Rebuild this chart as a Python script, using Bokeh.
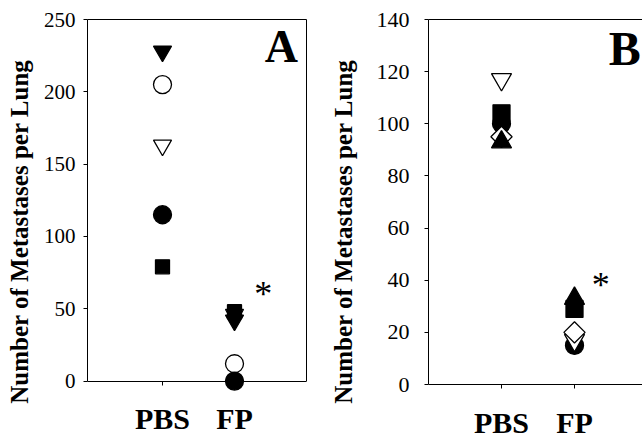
from bokeh.plotting import figure
from bokeh.models import Range1d, LinearAxis, FixedTicker, ColumnDataSource
from bokeh.layouts import row
from bokeh.embed import file_html
from bokeh.resources import INLINE
from bokeh.core.properties import value
import math

FONT = "Liberation Serif"

# ---------------- data ----------------
categories = ["PBS", "FP"]
y_label = "Number of Metastases per Lung"

# Panel A (per-experiment metastasis counts)
y_ticks_a = [0, 50, 100, 150, 200, 250]
a_open_circle = [205, 12]
a_open_inv_triangle = [163, 46]
a_filled_inv_triangle = [228, 42]
a_filled_square = [79, 48]
a_filled_circle = [115, 0]

# Panel B
y_ticks_b = [0, 20, 40, 60, 80, 100, 120, 140]
b_filled_circle = [100, 15]
b_filled_square = [104, 29]
b_open_inv_triangle = [117, 17]
b_open_diamond = [95, 20]
b_filled_triangle = [93, 33]

panel_letters = ["A", "B"]
significance = "*"

x_pos = [i + 1 for i in range(len(categories))]

FIG_H = 443


def style_axes(p, ymax, yticks, tick_font, standoff, label_standoff):
    yax = p.yaxis[0]
    yax.ticker = FixedTicker(ticks=yticks)
    yax.bounds = (0, ymax)
    yax.axis_line_color = "black"
    yax.axis_line_width = 1
    yax.major_tick_out = 4
    yax.major_tick_in = 0
    yax.minor_tick_line_color = None
    yax.major_label_text_font = FONT
    yax.major_label_text_font_size = tick_font
    yax.major_label_text_color = "black"
    yax.major_label_standoff = standoff
    yax.axis_label = y_label
    yax.axis_label_text_font = FONT
    yax.axis_label_text_font_style = "bold"
    yax.axis_label_text_font_size = "25px"
    yax.axis_label_text_color = "black"
    yax.axis_label_standoff = label_standoff

    xax = p.xaxis[0]
    xax.ticker = FixedTicker(ticks=x_pos)
    xax.major_label_overrides = {x: c for x, c in zip(x_pos, categories)}
    xax.fixed_location = 0
    xax.axis_line_color = "black"
    xax.major_tick_out = 4
    xax.major_tick_in = 0
    xax.minor_tick_line_color = None
    xax.major_label_text_font = FONT
    xax.major_label_text_font_style = "bold"
    xax.major_label_text_font_size = "30px"
    xax.major_label_text_color = "black"
    xax.major_label_standoff = 17

    top = LinearAxis(ticker=FixedTicker(ticks=[]), axis_line_color="black",
                     major_tick_line_color=None, minor_tick_line_color=None,
                     major_label_text_font_size="0px", major_label_standoff=0)
    p.add_layout(top, "above")


def base_fig(width, mbl, mbr, mbt, xr, yr):
    p = figure(width=width, height=FIG_H, output_backend="svg", toolbar_location=None,
               x_range=Range1d(*xr), y_range=Range1d(*yr),
               min_border_left=mbl, min_border_right=mbr,
               min_border_top=mbt, min_border_bottom=0)
    p.outline_line_color = None
    p.xgrid.visible = False
    p.ygrid.visible = False
    p.background_fill_color = "white"
    p.border_fill_color = "white"
    return p


def add_series(p, vals, marker, filled, size, angle=0.0):
    src = ColumnDataSource(dict(x=x_pos, y=vals))
    p.scatter("x", "y", source=src, marker=marker, size=size, angle=angle,
              fill_color="black" if filled else "white",
              line_color="black", line_width=1.3)


# ---------------- Panel A ----------------
# frame: x 87..306 px, y 15 (=250) .. 380 (=0) px
A_W = 326
pa = base_fig(A_W, 87, A_W - 306, 15,
              (1 - 75 / 72, 1 - 75 / 72 + 219 / 72),
              (250 - (FIG_H - 15) * 250 / 365, 250))
style_axes(pa, 250, y_ticks_a, "21px", 8, 8)
right = LinearAxis(ticker=FixedTicker(ticks=[]), axis_line_color="black",
                   major_tick_line_color=None, minor_tick_line_color=None,
                   major_label_text_font_size="0px", major_label_standoff=0,
                   bounds=(0, 250))
pa.add_layout(right, "right")

add_series(pa, a_open_circle, "circle", False, 18)
add_series(pa, a_open_inv_triangle, "inverted_triangle", False, 18)
add_series(pa, a_filled_inv_triangle, "inverted_triangle", True, 18)
add_series(pa, a_filled_square, "square", True, 14)
add_series(pa, a_filled_circle, "circle", True, 18)

pa.text(x=[2.65], y=[231], text=[panel_letters[0]], text_font=value(FONT),
        text_font_style="bold", text_font_size="46px", text_align="center",
        text_baseline="middle", text_color="black")
pa.text(x=[2.40], y=[60], text=[significance], text_font=value(FONT),
        text_font_size="36px", text_align="center", text_baseline="middle",
        text_color="black")

# ---------------- Panel B ----------------
# frame: x 428.. px, y 19 (=140) .. 384 (=0) px
B_W = 642 - A_W
pb = base_fig(B_W, 428 - A_W, 0, 19,
              (0, (642 - 428) / 73),
              (140 - (FIG_H - 19) * 140 / 365, 140))
style_axes(pb, 140, y_ticks_b, "22px", 15, 17)

add_series(pb, b_filled_circle, "circle", True, 18)
add_series(pb, b_filled_square, "square", True, 17)
add_series(pb, b_open_inv_triangle, "inverted_triangle", False, 20)
add_series(pb, b_open_diamond, "square", False, 15, angle=math.pi / 4)
add_series(pb, b_filled_triangle, "triangle", True, 20)

pb.text(x=[2.69], y=[129], text=[panel_letters[1]], text_font=value(FONT),
        text_font_style="bold", text_font_size="48px", text_align="center",
        text_baseline="middle", text_color="black")
pb.text(x=[2.36], y=[38], text=[significance], text_font=value(FONT),
        text_font_size="36px", text_align="center", text_baseline="middle",
        text_color="black")

layout = row(pa, pb)
open("out.html", "w").write(file_html(layout, INLINE))
